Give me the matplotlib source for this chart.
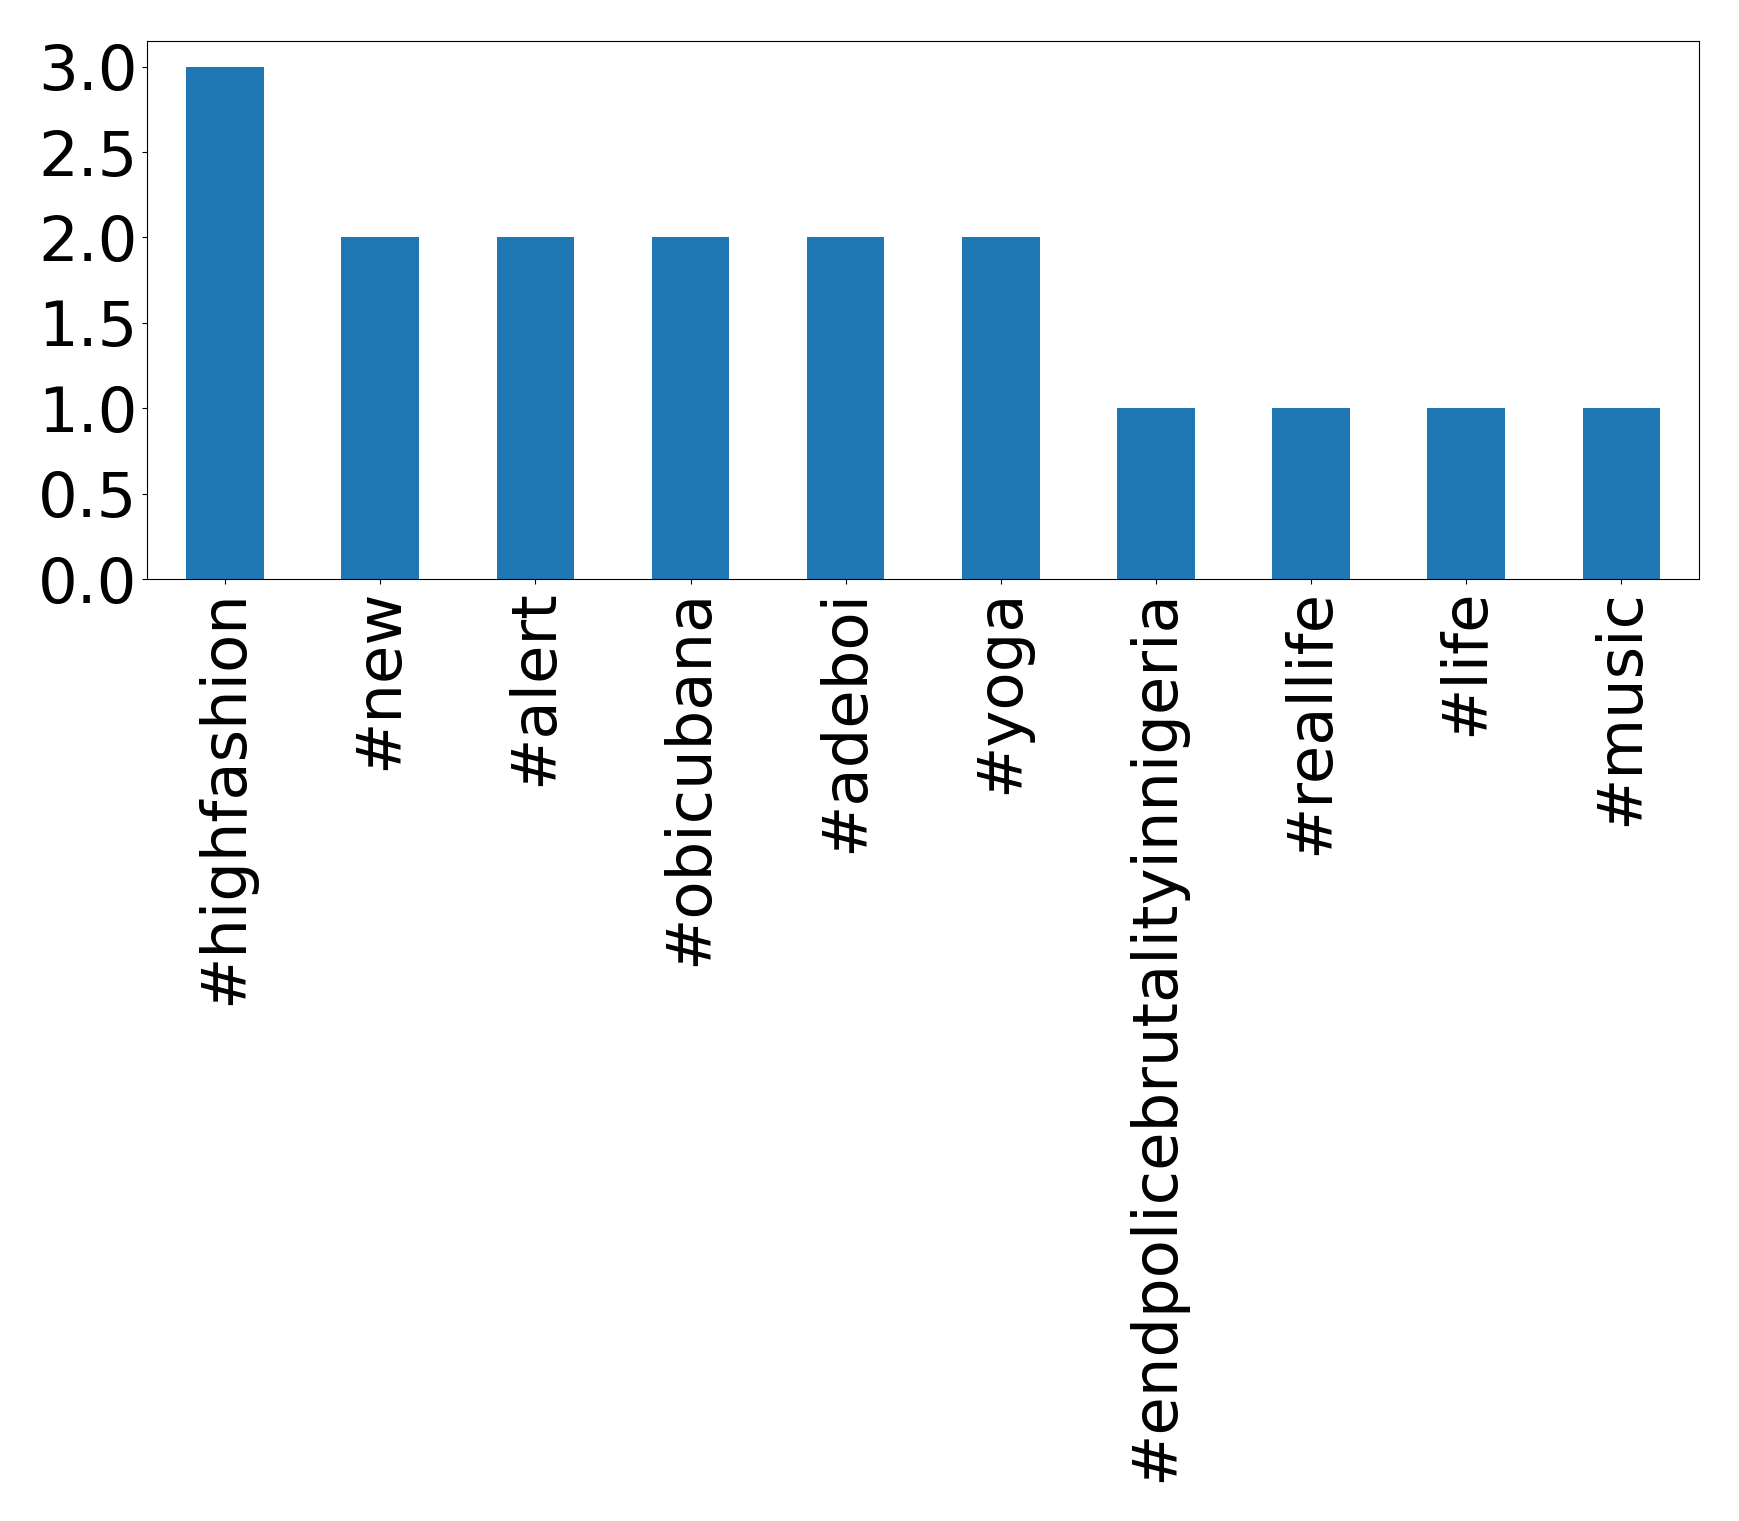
import matplotlib
matplotlib.use('Agg')
import pandas as pd
import matplotlib.pyplot as plt

hashtags = ['#highfashion', '#new', '#alert', '#obicubana', '#adeboi', '#yoga',
            '#endpolicebrutalityinnigeria', '#reallife', '#life', '#music']
counts = [3, 2, 2, 2, 2, 2, 1, 1, 1, 1]

s = pd.Series(counts, index=hashtags)

fig = plt.figure(figsize=(17.39, 15.21), dpi=100)
ax = fig.add_axes([0.0848, 0.6193, 0.977 - 0.0848, 0.973 - 0.6193])
s.plot(ax=ax, kind='bar', fontsize=45, color='#1f77b4')
fig.savefig('out.png', dpi=100)
